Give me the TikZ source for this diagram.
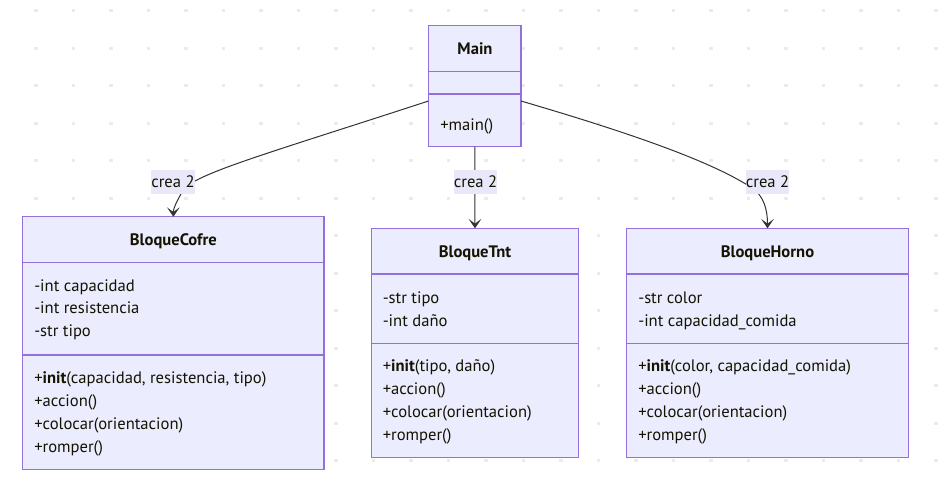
\documentclass[tikz,border=0pt]{standalone}
\usepackage{fontspec}
\setmainfont{PT Sans}
\usetikzlibrary{arrows.meta,calc}
\definecolor{clsfill}{HTML}{ECECFF}
\definecolor{clsdraw}{HTML}{9370DB}
\definecolor{edgecol}{HTML}{333333}
\definecolor{txtcol}{HTML}{131300}
\definecolor{dotcol}{HTML}{EBEBEB}
\definecolor{lblfill}{HTML}{E8E8FA}
\tikzset{
  clsbox/.style={draw=clsdraw, fill=clsfill, line width=0.9pt, inner sep=0pt, outer sep=0pt},
  divider/.style={draw=clsdraw, line width=0.9pt},
  title/.style={anchor=base, inner sep=0pt, font=\fontsize{12.45pt}{14pt}\selectfont\bfseries, text=txtcol},
  member/.style={anchor=base west, inner sep=0pt, font=\fontsize{12.45pt}{14pt}\selectfont, text=txtcol},
  elabel/.style={fill=lblfill, inner sep=0pt, minimum width=32pt, minimum height=18pt, font=\fontsize{12.45pt}{14pt}\selectfont, text=txtcol},
  edge/.style={draw=edgecol, line width=0.75pt, -{Stealth[length=7pt, width=9.5pt, inset=3.5pt]}},
}
\begin{document}
\begin{tikzpicture}[x=0.75pt,y=-0.75pt]
\path[use as bounding box, fill=white] (0,0) rectangle (948,480);
% dot grid
\foreach \i in {0,...,25} {
  \foreach \j in {0,...,12} {
    \fill[dotcol] ({\i*37.5-1.5-1.6},{\j*37.5+10.7-1.6}) rectangle ++(3.2,3.2);
  }
}
% class boxes
\node[clsbox, minimum width=69.4pt, minimum height=90.75pt] (main) at (474.75,86) {};
\node[clsbox, minimum width=226pt, minimum height=189.45pt] (cofre) at (173.35,343) {};
\node[clsbox, minimum width=154.95pt, minimum height=172.05pt] (tnt) at (475,343) {};
\node[clsbox, minimum width=211.2pt, minimum height=172.05pt] (horno) at (767.5,343) {};
% dividers
\draw[divider] (main.west |- 0,71.7) -- (main.east |- 0,71.7);
\draw[divider] (main.west |- 0,94) -- (main.east |- 0,94);
\draw[divider] (cofre.west |- 0,262.3) -- (cofre.east |- 0,262.3);
\draw[divider] (cofre.west |- 0,355) -- (cofre.east |- 0,355);
\draw[divider] (tnt.west |- 0,274) -- (tnt.east |- 0,274);
\draw[divider] (tnt.west |- 0,343.3) -- (tnt.east |- 0,343.3);
\draw[divider] (horno.west |- 0,274) -- (horno.east |- 0,274);
\draw[divider] (horno.west |- 0,343.3) -- (horno.east |- 0,343.3);
% Main text
\node[title] (mainT) at (475,54) {Main};
\node[member] (mainM1) at (440,130) {+main()};
% BloqueCofre text
\node[title] (cofreT) at (173.35,245) {BloqueCofre};
\node[member] (cofreA1) at (34,291) {-int capacidad};
\node[member] (cofreA2) at (34,313.7) {-int resistencia};
\node[member] (cofreA3) at (34,336.6) {-str tipo};
\node[member] (cofreM1) at (34,383.3) {+\textbf{init}(capacidad, resistencia, tipo)};
\node[member] (cofreM2) at (34,406) {+accion()};
\node[member] (cofreM3) at (34,429) {+colocar(orientacion)};
\node[member] (cofreM4) at (34,452) {+romper()};
% BloqueTnt text
\node[title] (tntT) at (475,257.3) {BloqueTnt};
\node[member] (tntA1) at (382.5,303.3) {-str tipo};
\node[member] (tntA2) at (382.5,326) {-int daño};
\node[member] (tntM1) at (382.5,371.7) {+\textbf{init}(tipo, daño)};
\node[member] (tntM2) at (382.5,394.5) {+accion()};
\node[member] (tntM3) at (382.5,417.3) {+colocar(orientacion)};
\node[member] (tntM4) at (382.5,440) {+romper()};
% BloqueHorno text
\node[title] (hornoT) at (767.5,257.3) {BloqueHorno};
\node[member] (hornoA1) at (638,303.3) {-str color};
\node[member] (hornoA2) at (638,326) {-int capacidad\_comida};
\node[member] (hornoM1) at (638,371.7) {+\textbf{init}(color, capacidad\_comida)};
\node[member] (hornoM2) at (638,394.5) {+accion()};
\node[member] (hornoM3) at (638,417.3) {+colocar(orientacion)};
\node[member] (hornoM4) at (638,440) {+romper()};
% edges
\draw[edge] ([yshift=-11.25pt]main.west) .. controls (260,156) and (190,175) .. (182,192) .. controls (176,203) and (173.35,208) .. (cofre.north);
\draw[edge] (main.south) -- (tnt.north);
\draw[edge] ([yshift=-11.25pt]main.east) .. controls (620,130) and (710,160) .. (752,188) .. controls (764,196) and (767.5,210) .. (horno.north);
% edge labels
\node[elabel] (l1) at (173,182) {crea 2};
\node[elabel] (l2) at (475.5,182) {crea 2};
\node[elabel] (l3) at (767.5,181.7) {crea 2};
\end{tikzpicture}
\end{document}
